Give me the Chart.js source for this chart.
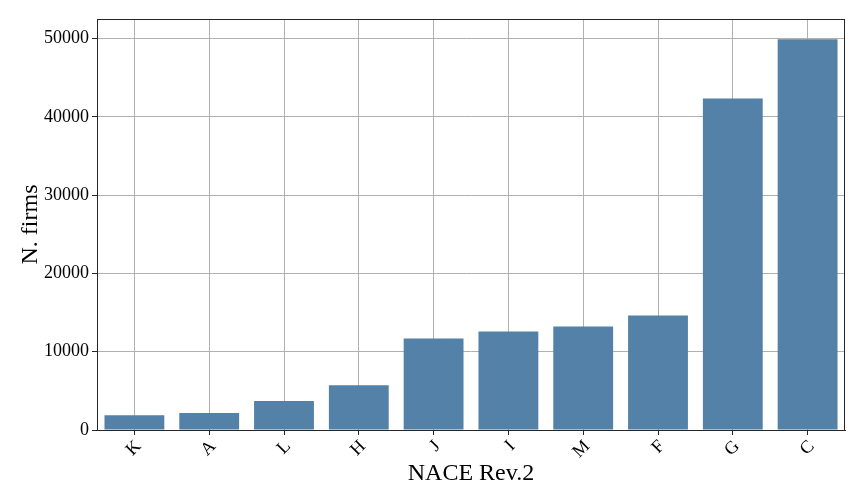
<!DOCTYPE html>
<html>
<head>
<meta charset="utf-8">
<script src="https://cdn.jsdelivr.net/npm/chart.js@4"></script>
<style>
  body { margin: 0; background: #fff; }
  #wrap { width: 864px; height: 504px; }
</style>
</head>
<body>
<div id="wrap"><canvas id="barChart" width="864" height="504"></canvas></div>
<script>
const sectors = ['K', 'A', 'L', 'H', 'J', 'I', 'M', 'F', 'G', 'C'];
const nFirms = [1900, 2160, 3690, 5720, 11690, 12580, 13220, 14620, 42340, 49900];
const yTicks = [0, 10000, 20000, 30000, 40000, 50000];

const font = 'Liberation Serif';

// box around the plot area, like the matplotlib spines
const frame = {
    id: 'frame',
    afterDraw(chart) {
        const a = chart.chartArea;
        const c = chart.ctx;
        c.save();
        c.strokeStyle = '#262626';
        c.lineWidth = 1;
        c.strokeRect(Math.round(a.left) + 0.5, Math.round(a.top) + 0.5,
            Math.round(a.right - a.left) - 1, Math.round(a.bottom - a.top));
        c.restore();
    }
};

const ctx = document.getElementById('barChart').getContext('2d');
new Chart(ctx, {
    type: 'bar',
    data: {
        labels: sectors,
        datasets: [{
            label: 'N. firms',
            data: nFirms,
            backgroundColor: 'rgb(83,129,167)',
            borderWidth: 0,
            categoryPercentage: 1,
            barPercentage: 0.8
        }]
    },
    options: {
        responsive: false,
        animation: false,
        layout: { padding: { left: 0, top: 19, right: 19, bottom: 16 } },
        plugins: {
            legend: { display: false },
            tooltip: { enabled: false }
        },
        scales: {
            x: {
                z: 1,
                grid: { offset: false, color: '#b0b0b0', tickColor: '#262626', tickLength: 5 },
                border: { display: true, color: '#262626' },
                ticks: {
                    color: '#000',
                    font: { family: font, size: 18 },
                    minRotation: 45,
                    maxRotation: 45,
                    padding: 1,
                    labelOffset: 4
                },
                title: {
                    display: true,
                    text: 'NACE Rev.2',
                    color: '#000',
                    font: { family: font, size: 24 },
                    padding: { top: 0, bottom: 0 }
                },
                afterFit(scale) { scale.height = 58; }
            },
            y: {
                z: 1,
                min: 0,
                max: 52500,
                grid: { color: '#b0b0b0', tickColor: '#262626', tickLength: 5 },
                border: { display: true, color: '#262626' },
                afterBuildTicks(scale) {
                    scale.ticks = yTicks.map(v => ({ value: v }));
                },
                ticks: {
                    color: '#000',
                    font: { family: font, size: 18 },
                    padding: 3,
                    callback: v => String(v)
                },
                title: {
                    display: true,
                    text: 'N. firms',
                    color: '#000',
                    font: { family: font, size: 24 },
                    padding: { top: 16, bottom: 4 }
                },
                afterFit(scale) { scale.width = 97; }
            }
        }
    },
    plugins: [frame]
});
</script>
</body>
</html>
